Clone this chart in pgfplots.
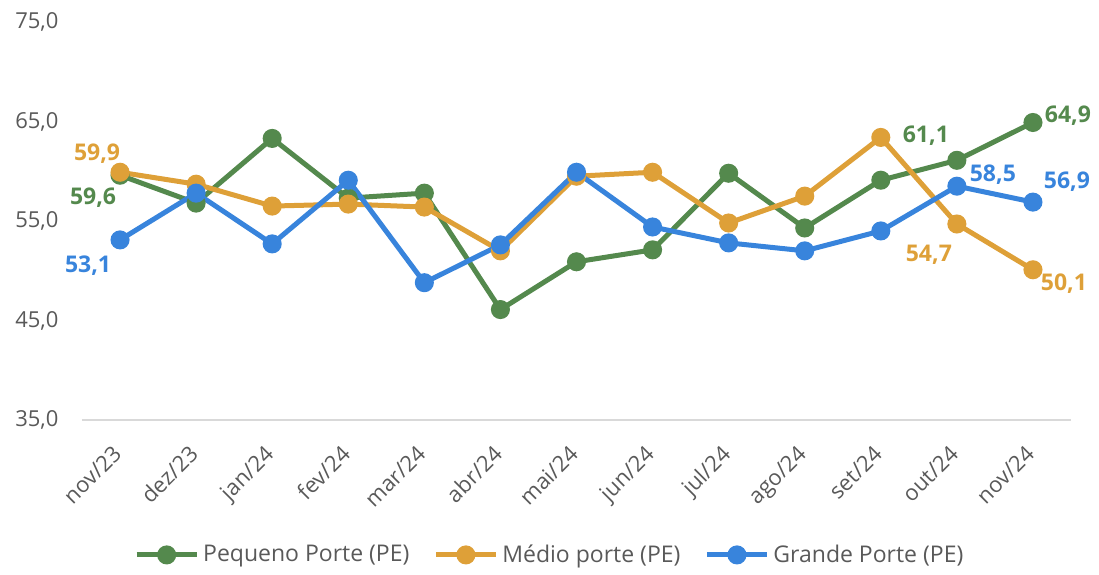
\documentclass[border=0pt]{standalone}
\usepackage{fontspec}
\setmainfont{Open Sans}
\usepackage{pgfplots}
\pgfplotsset{compat=1.18}
\usetikzlibrary{calc}
\definecolor{pgreen}{RGB}{84,137,77}
\definecolor{porange}{RGB}{222,160,56}
\definecolor{pblue}{RGB}{56,132,220}
\definecolor{txtgray}{RGB}{89,89,89}
\definecolor{axgray}{RGB}{217,217,217}

\begin{document}
\begin{tikzpicture}
\begin{axis}[
  name=ax,
  width=494.5pt, height=199pt, scale only axis,
  xmin=-0.5, xmax=12.5, ymin=35, ymax=75,
  clip=false,
  axis lines*=left,
  y axis line style={draw=none},
  x axis line style={axgray, line width=1pt},
  ytick={35,45,...,75},
  ytick style={draw=none},
  xtick={0,...,12},
  xticklabels={nov/23,dez/23,jan/24,fev/24,mar/24,abr/24,mai/24,jun/24,jul/24,ago/24,set/24,out/24,nov/24},
  xtick style={draw=none},
  minor xtick={-0.5,0.5,...,12.5},
  minor tick length=5pt,
  tick align=outside,
  minor x tick style={axgray, line width=1pt},
  /pgf/number format/.cd, use comma, fixed, fixed zerofill, precision=1, assume math mode=true,
  /pgfplots/.cd,
  yticklabel style={font=\fontsize{11}{13}\selectfont, text=txtgray, xshift=-4pt},
  xticklabel style={font=\fontsize{11}{13}\selectfont, text=txtgray, rotate=45, anchor=north east, yshift=1pt, xshift=-5pt},
  legend columns=3,
  legend style={at={(0.474,-0.339)}, anchor=center, draw=none, fill=none,
    font=\fontsize{11.5}{13}\selectfont, text=txtgray,
    /tikz/every even column/.append style={column sep=10pt}},
  legend image code/.code={\draw[#1, mark repeat=2, mark phase=2] plot coordinates {(0pt,0pt)(15pt,0pt)(30pt,0pt)};},
  every axis plot/.append style={line width=2.5pt, mark=*, mark size=3.5pt},
]
\addplot[color=pgreen] coordinates {
  (0,59.6)(1,56.8)(2,63.3)(3,57.3)(4,57.8)(5,46.1)(6,50.9)(7,52.1)(8,59.8)(9,54.3)(10,59.1)(11,61.1)(12,64.9)};
\addlegendentry{Pequeno Porte (PE)}
\addplot[color=porange] coordinates {
  (0,59.9)(1,58.7)(2,56.5)(3,56.7)(4,56.4)(5,52.0)(6,59.5)(7,59.9)(8,54.8)(9,57.5)(10,63.4)(11,54.7)(12,50.1)};
\addlegendentry{Médio porte (PE)}
\addplot[color=pblue] coordinates {
  (0,53.1)(1,57.8)(2,52.7)(3,59.1)(4,48.8)(5,52.6)(6,59.9)(7,54.4)(8,52.8)(9,52.0)(10,54.0)(11,58.5)(12,56.9)};
\addlegendentry{Grande Porte (PE)}

\tikzset{dl/.style={font=\bfseries\fontsize{11.5}{13}\selectfont, inner sep=0pt}}
\node[dl, text=pgreen, xshift=-13.5pt, yshift=-11pt] at (axis cs:0,59.6) {59,6};
\node[dl, text=porange, xshift=-11.5pt, yshift=9.5pt] at (axis cs:0,59.9) {59,9};
\node[dl, text=pblue, xshift=-16pt, yshift=-13pt] at (axis cs:0,53.1) {53,1};
\node[dl, text=pgreen, xshift=-15.5pt, yshift=12.5pt] at (axis cs:11,61.1) {61,1};
\node[dl, text=pgreen, xshift=17.5pt, yshift=3.5pt] at (axis cs:12,64.9) {64,9};
\node[dl, text=pblue, xshift=18pt, yshift=6pt] at (axis cs:11,58.5) {58,5};
\node[dl, text=pblue, xshift=17pt, yshift=10pt] at (axis cs:12,56.9) {56,9};
\node[dl, text=porange, xshift=-14pt, yshift=-15.5pt] at (axis cs:11,54.7) {54,7};
\node[dl, text=porange, xshift=15.5pt, yshift=-7pt] at (axis cs:12,50.1) {50,1};
\end{axis}
\pgfresetboundingbox
\path[use as bounding box] ($(ax.south west)+(-41pt,-77pt)$) rectangle ($(ax.north east)+(14pt,11pt)$);
\end{tikzpicture}
\end{document}
